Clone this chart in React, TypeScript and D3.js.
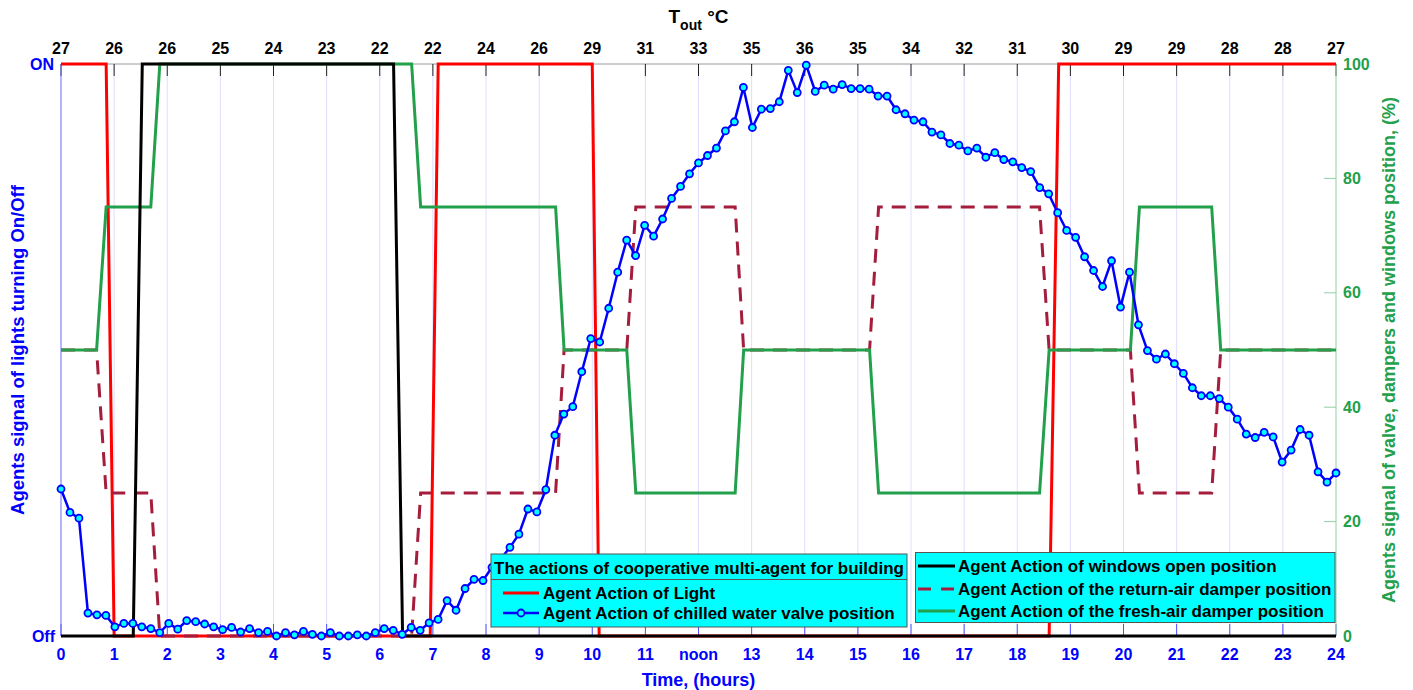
import { useEffect } from "react";
import * as d3 from "d3";

// tick labels
const hours = d3.range(0, 25);
const timeLabels = ["0", "1", "2", "3", "4", "5", "6", "7", "8", "9", "10", "11", "noon",
  "13", "14", "15", "16", "17", "18", "19", "20", "21", "22", "23", "24"];
const toutLabels = [27, 26, 26, 25, 24, 23, 22, 22, 24, 26, 29, 31, 33, 35, 36, 35, 34, 32, 31, 30, 29, 29, 28, 28, 27];
const pctTicks = [0, 20, 40, 60, 80, 100];

// light agent (1 = ON, 0 = Off)
const lightTime = [0, 0.85, 1.0, 6.95, 7.1, 10.0, 10.13, 18.6, 18.78, 24];
const lightOnOff = [1, 1, 0, 0, 1, 1, 0, 0, 1, 1];

// windows agent (%)
const windowTime = [0, 1.36, 1.53, 6.26, 6.43, 24];
const windowPos = [0, 0, 100, 100, 0, 0];

// dampers (%)
const damperTime = [0, 0.67, 0.85, 1.69, 1.86, 6.6, 6.77, 9.31, 9.47, 10.65, 10.82, 12.69, 12.85,
  15.22, 15.39, 18.42, 18.6, 20.13, 20.3, 21.66, 21.83, 24];
const freshAir = [50, 50, 75, 75, 100, 100, 75, 75, 50, 50, 25, 25, 50, 50, 25, 25, 50, 50, 75, 75, 50, 50];
const returnAir = [50, 50, 25, 25, 0, 0, 25, 25, 50, 50, 75, 75, 50, 50, 75, 75, 50, 50, 25, 25, 50, 50];

// chilled water valve (%), sampled evenly over 0..24 h
const valvePos = [
  25.7, 21.6, 20.6, 4.0, 3.7, 3.6, 1.6, 2.2, 2.2, 1.6, 1.3, 0.6, 2.2, 1.2, 2.7, 2.5, 2.1, 1.6,
  1.1, 1.5, 0.7, 1.3, 0.6, 0.8, 0, 0.6, 0.2, 0.8, 0.3, 0, 0.6, 0, 0, 0.2, 0, 0.6, 1.3, 1.0,
  0.3, 1.5, 1.0, 2.3, 2.9, 6.2, 4.5, 8.3, 9.9, 9.7, 12, 13.5, 15.5, 17.8, 22.2, 21.7, 25.6,
  35.1, 38.8, 40.1, 46.2, 52.0, 51.4, 57.3, 63.6, 69.2, 66.5, 71.8, 69.9, 72.9, 76.5, 78.6,
  80.8, 82.7, 84.0, 85.3, 88.3, 89.9, 95.9, 88.9, 92.1, 92.2, 93.4, 98.9, 95.0, 99.8, 95.2,
  96.3, 95.6, 96.4, 95.7, 95.7, 95.6, 94.4, 94.4, 92.0, 91.3, 90.2, 89.9, 88.1, 87.6, 86.1,
  85.8, 84.8, 85.3, 83.7, 84.5, 83.3, 82.9, 81.9, 81.2, 78.4, 77.3, 74.0, 70.9, 69.7, 66.3,
  63.9, 61.1, 65.6, 57.5, 63.6, 54.4, 49.9, 48.4, 49.3, 47.6, 45.9, 43.4, 42.0, 42.0, 41.5,
  40.0, 37.9, 35.3, 34.7, 35.6, 34.8, 30.4, 32.5, 36.1, 35.1, 28.7, 26.9, 28.5,
];
const valveTime = valvePos.map((_, i) => (i * 24) / (valvePos.length - 1));

const FONT = "'Liberation Sans', Arial, sans-serif";
const RED = "#ff0000";
const GREEN = "#22a04b";
const DASH = "#a51d3c";
const BLUE = "#0000ff";

export default function App() {
  useEffect(() => {
    document.body.style.margin = "0";
  }, []);

  const width = 1413;
  const height = 690;
  const x = d3.scaleLinear().domain([0, 24]).range([61, 1336]);
  const yL = d3.scaleLinear().domain([0, 1]).range([636, 64]);
  const yR = d3.scaleLinear().domain([0, 100]).range([636, 64]);

  const lineL = d3.line<[number, number]>().x((d) => x(d[0])).y((d) => yL(d[1]));
  const lineR = d3.line<[number, number]>().x((d) => x(d[0])).y((d) => yR(d[1]));

  const zip = (a: number[], b: number[]) => a.map((t, i) => [t, b[i]] as [number, number]);

  const [x0, x1] = x.range();
  const [yb, yt] = yR.range();

  return (
    <svg width={width} height={height} style={{ display: "block", background: "#fff" }}
      fontFamily={FONT} fontWeight="bold">
      {/* grid */}
      {hours.slice(1, -1).map((h) => (
        <line key={"g" + h} x1={x(h)} x2={x(h)} y1={yt} y2={yb} stroke="#dedeff" strokeWidth={1} />
      ))}
      {/* top axis */}
      <line x1={x0} x2={x1} y1={yt} y2={yt} stroke="#9a9a9a" strokeWidth={1} />
      {hours.map((h) => (
        <line key={"tt" + h} x1={x(h)} x2={x(h)} y1={yt} y2={yt + 12} stroke="#222" strokeWidth={1} />
      ))}
      {hours.map((h, i) => (
        <text key={"tl" + h} x={x(h)} y={54} textAnchor="middle" fontSize={16} fill="#000">
          {toutLabels[i]}
        </text>
      ))}
      <text x={(x0 + x1) / 2} y={23} textAnchor="middle" fontSize={19} fill="#000">
        T<tspan fontSize={14} dy={7}>out</tspan>
        <tspan dy={-7}> °C</tspan>
      </text>
      {/* bottom axis */}
      {hours.map((h) => (
        <line key={"bt" + h} x1={x(h)} x2={x(h)} y1={yb} y2={yb - 12} stroke="#5050ff" strokeWidth={1} />
      ))}
      {hours.map((h, i) => (
        <text key={"bl" + h} x={x(h)} y={660} textAnchor="middle" fontSize={16} fill={BLUE}>
          {timeLabels[i]}
        </text>
      ))}
      <text x={(x0 + x1) / 2} y={686} textAnchor="middle" fontSize={18} fill={BLUE}>
        Time, (hours)
      </text>
      {/* left axis */}
      <line x1={x0} x2={x0} y1={yt} y2={yb} stroke="#6a6aff" strokeWidth={1} />
      <text x={54} y={yL(1)} textAnchor="end" dominantBaseline="central" fontSize={16} fill={BLUE}>ON</text>
      <text x={55} y={yL(0)} textAnchor="end" dominantBaseline="central" fontSize={16} fill={BLUE}>Off</text>
      <text transform={`translate(24,350) rotate(-90)`} textAnchor="middle" fontSize={18.5} fill={BLUE}>
        Agents signal of lights turning On/Off
      </text>
      {/* right axis */}
      <line x1={x1} x2={x1} y1={yt} y2={yb} stroke="#8fd0a3" strokeWidth={1} />
      {pctTicks.map((p) => (
        <g key={"rp" + p}>
          {p > 0 && p < 100 && (
            <line x1={x1} x2={x1 - 12} y1={yR(p)} y2={yR(p)} stroke="#8fd0a3" strokeWidth={1} />
          )}
          <text x={x1 + 7} y={yR(p)} dominantBaseline="central" fontSize={16} fill={GREEN}>
            {p}
          </text>
        </g>
      ))}
      <text transform={`translate(1395,350) rotate(-90)`} textAnchor="middle" fontSize={18} fill={GREEN}>
        Agents signal of valve, dampers and windows position, (%)
      </text>

      {/* series */}
      <path d={lineL(zip(lightTime, lightOnOff)) ?? ""} fill="none" stroke={RED} strokeWidth={3} />
      <path d={lineR(zip(damperTime, returnAir)) ?? ""} fill="none" stroke={DASH} strokeWidth={3}
        strokeDasharray="14,9" />
      <path d={lineR(zip(damperTime, freshAir)) ?? ""} fill="none" stroke={GREEN} strokeWidth={3} />
      <path d={lineR(zip(windowTime, windowPos)) ?? ""} fill="none" stroke="#000" strokeWidth={3} />
      <path d={lineR(zip(valveTime, valvePos)) ?? ""} fill="none" stroke={BLUE} strokeWidth={2.5} />
      {valvePos.map((v, i) => (
        <circle key={"m" + i} cx={x(valveTime[i])} cy={yR(v)} r={3.5} fill="#00ffff" stroke={BLUE}
          strokeWidth={1.8} />
      ))}

      {/* legend 1 */}
      <g>
        <rect x={491} y={554} width={416} height={73} fill="#00ffff" stroke="#555" strokeWidth={1} />
        <text x={699} y={574} textAnchor="middle" fontSize={17} fill="#000">
          The actions of cooperative multi-agent for building
        </text>
        <line x1={491} x2={907} y1={579.5} y2={579.5} stroke="#555" strokeWidth={1} />
        <line x1={503} x2={539} y1={593} y2={593} stroke={RED} strokeWidth={3} />
        <text x={543} y={593} dominantBaseline="central" fontSize={17} fill="#000">Agent Action of Light</text>
        <line x1={503} x2={539} y1={613} y2={613} stroke={BLUE} strokeWidth={2.5} />
        <circle cx={521} cy={613} r={3.5} fill="#00ffff" stroke={BLUE} strokeWidth={1.8} />
        <text x={543} y={613} dominantBaseline="central" fontSize={17} fill="#000">
          Agent Action of chilled water valve position
        </text>
      </g>
      {/* legend 2 */}
      <g>
        <rect x={915.5} y={552.5} width={419.5} height={70} fill="#00ffff" stroke="#555" strokeWidth={1} />
        <line x1={918} x2={955} y1={566} y2={566} stroke="#000" strokeWidth={3} />
        <text x={958} y={566} dominantBaseline="central" fontSize={17} fill="#000">
          Agent Action of windows open position
        </text>
        <line x1={918} x2={955} y1={589} y2={589} stroke={DASH} strokeWidth={3} strokeDasharray="13,10" />
        <text x={958} y={589} dominantBaseline="central" fontSize={17} fill="#000">
          Agent Action of the return-air damper position
        </text>
        <line x1={918} x2={955} y1={611} y2={611} stroke={GREEN} strokeWidth={3} />
        <text x={958} y={611} dominantBaseline="central" fontSize={17} fill="#000">
          Agent Action of the fresh-air damper position
        </text>
      </g>
    </svg>
  );
}
